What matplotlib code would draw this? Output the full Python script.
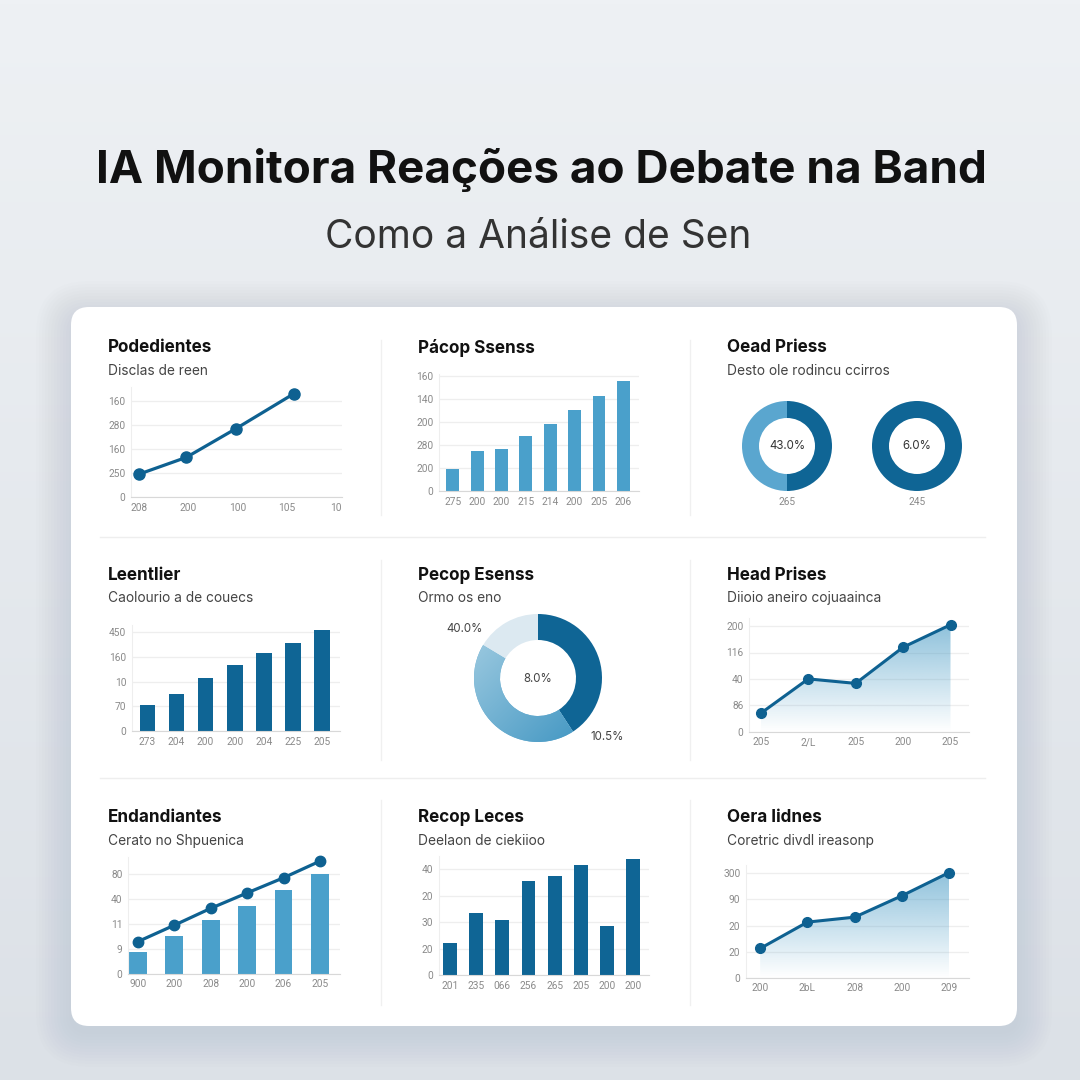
import numpy as np
import matplotlib.pyplot as plt
from matplotlib.patches import FancyBboxPatch, Polygon
from matplotlib.colors import to_rgb

plt.rcParams['font.family'] = ['Inter', 'DejaVu Sans']

W = H = 1080
DARK = "#0f6595"
LIGHT = "#4aa0cb"
LINE = "#0e6191"

title = "IA Monitora Reações ao Debate na Band"
subtitle = "Como a Análise de Sen"

# panel 1 - line
p1_title, p1_sub = "Podedientes", "Disclas de reen"
p1_x = [0, 0.96, 1.97, 3.14]
p1_y = [0.95, 1.65, 2.85, 4.3]
p1_yticks = ["0", "250", "160", "280", "160"]
p1_xticks = ["208", "200", "100", "105", "10"]

# panel 2 - bars
p2_title = "Pácop Ssenss"
p2_vals = [0.95, 1.75, 1.83, 2.39, 2.9, 3.5, 4.15, 4.8]
p2_yticks = ["0", "200", "280", "200", "140", "160"]
p2_xticks = ["275", "200", "200", "215", "214", "200", "205", "206"]

# panel 3 - two donuts
p3_title, p3_sub = "Oead Priess", "Desto ole rodincu ccirros"
p3_left = [50, 50]
p3_left_txt, p3_left_lab = "43.0%", "265"
p3_right = [100]
p3_right_txt, p3_right_lab = "6.0%", "245"

# panel 4 - bars
p4_title, p4_sub = "Leentlier", "Caolourio a de couecs"
p4_vals = [1.04, 1.49, 2.13, 2.68, 3.16, 3.57, 4.07]
p4_yticks = ["0", "70", "10", "160", "450"]
p4_xticks = ["273", "204", "200", "200", "204", "225", "205"]

# panel 5 - donut
p5_title, p5_sub = "Pecop Esenss", "Ormo os eno"
p5_vals = [40.8, 42.8, 16.4]
p5_labels = ["40.0%", "8.0%", "10.5%"]

# panel 6 - area line
p6_title, p6_sub = "Head Prises", "Diioio aneiro cojuaainca"
p6_y = [0.7, 2.0, 1.83, 3.2, 4.05]
p6_yticks = ["0", "86", "40", "116", "200"]
p6_xticks = ["205", "2/L", "205", "200", "205"]

# panel 7 - bars + line
p7_title, p7_sub = "Endandiantes", "Cerato no Shpuenica"
p7_bars = [0.86, 1.52, 2.17, 2.74, 3.37, 4.0]
p7_line = [1.29, 1.95, 2.63, 3.25, 3.86, 4.53]
p7_yticks = ["0", "9", "11", "40", "80"]
p7_xticks = ["900", "200", "208", "200", "206", "205"]

# panel 8 - bars
p8_title, p8_sub = "Recop Leces", "Deelaon de ciekiioo"
p8_vals = [1.22, 2.35, 2.08, 3.55, 3.75, 4.18, 1.85, 4.38]
p8_yticks = ["0", "20", "30", "20", "40"]
p8_xticks = ["201", "235", "066", "256", "265", "205", "200", "200"]

# panel 9 - area line
p9_title, p9_sub = "Oera lidnes", "Coretric divdl ireasonp"
p9_y = [1.12, 2.13, 2.32, 3.14, 4.03]
p9_yticks = ["0", "20", "20", "90", "300"]
p9_xticks = ["200", "2bL", "208", "200", "209"]


fig = plt.figure(figsize=(10.8, 10.8), dpi=100)

bg = fig.add_axes([0, 0, 1, 1])
bg.axis("off")

# background gradient
top_c = np.array(to_rgb("#eef1f4"))
bot_c = np.array(to_rgb("#dce1e7"))
t = np.linspace(0, 1, 256)[:, None, None]
grad = top_c * (1 - t) + bot_c * t
bg.imshow(grad, extent=(0, W, H, 0), aspect="auto", zorder=0)

# card shadow + card
for i in range(12):
    p = 2 + i * 3
    bg.add_patch(FancyBboxPatch((71 - p, 316 - p), 946 + 2 * p, 716 + 2 * p,
                                boxstyle="round,pad=0,rounding_size=%d" % (18 + p),
                                fc="#8c98a6", ec="none", alpha=0.016, zorder=1))
bg.add_patch(FancyBboxPatch((71, 307), 946, 719, boxstyle="round,pad=0,rounding_size=18",
                            fc="white", ec="none", zorder=2))
bg.set_xlim(0, W)
bg.set_ylim(H, 0)

bg.text(541, 170, title, ha="center", va="center", fontsize=33, fontweight="bold",
        color="#111111", zorder=3)
bg.text(538, 238, subtitle, ha="center", va="center", fontsize=28, color="#333333", zorder=3)

# separators
for x in [381, 690]:
    for y0, y1 in [(340, 515), (560, 760), (800, 1005)]:
        bg.plot([x, x], [y0, y1], color="#f0f0f0", lw=1, zorder=3)
for y in [537, 778]:
    bg.plot([100, 985], [y, y], color="#eeeeee", lw=1, zorder=3)

# panel titles
heads = [(108, 348, p1_title, p1_sub), (418, 348, p2_title, None), (727, 348, p3_title, p3_sub),
         (108, 575, p4_title, p4_sub), (418, 575, p5_title, p5_sub), (727, 575, p6_title, p6_sub),
         (108, 818, p7_title, p7_sub), (418, 818, p8_title, p8_sub), (727, 818, p9_title, p9_sub)]
for x, y, tt, st in heads:
    bg.text(x, y, tt, ha="left", va="center", fontsize=12.3, fontweight="bold", color="#111111", zorder=3)
    if st:
        bg.text(x, y + 23, st, ha="left", va="center", fontsize=9.9, color="#444444", zorder=3)


def px_axes(x0, y0, x1, y1):
    return fig.add_axes([x0 / W, 1 - y1 / H, (x1 - x0) / W, (y1 - y0) / H])


def chart_axes(x0, x1, base, step, ytop, xlim, ylabels, xlabels):
    ax = px_axes(x0, base - step * ytop, x1, base)
    ax.set_yticks(range(len(ylabels)), ylabels)
    ax.set_xticks(range(len(xlabels)), xlabels)
    ax.set_xlim(*xlim)
    ax.set_ylim(0, ytop)
    ax.grid(axis="y", color="#eeeeee", lw=0.9)
    ax.set_axisbelow(True)
    for s in ["top", "right"]:
        ax.spines[s].set_visible(False)
    ax.spines["left"].set_color("#eeeeee")
    ax.spines["bottom"].set_color("#d8d8d8")
    ax.tick_params(length=0, labelsize=7.3, colors="#8a8a8a", pad=4)
    for lab in ax.get_xticklabels() + ax.get_yticklabels():
        lab.set_family(["Roboto", "DejaVu Sans"])
    ax.patch.set_alpha(0)
    return ax


def grad_fill(ax, x, y, color):
    verts = list(zip(x, y)) + [(x[-1], 0), (x[0], 0)]
    poly = Polygon(verts, closed=True, fc="none", ec="none")
    ax.add_patch(poly)
    arr = np.zeros((256, 1, 4))
    arr[..., :3] = to_rgb(color)
    arr[..., 3] = np.linspace(0.62, 0.0, 256)[:, None]
    im = ax.imshow(arr, extent=(x[0], x[-1], 0, max(y)), origin="upper", aspect="auto", zorder=1)
    im.set_clip_path(poly)


# panel 1
ax = chart_axes(131, 342, 497, 24, 4.6, (-0.16, 4.12), p1_yticks, p1_xticks)
ax.plot(p1_x, p1_y, color=LINE, lw=2.3, marker="o", ms=8, zorder=3, clip_on=False)

# panel 2
ax = chart_axes(439, 639, 491, 23, 5.1, (-0.56, 7.64), p2_yticks, p2_xticks)
ax.bar(range(len(p2_vals)), p2_vals, width=0.53, color=LIGHT, zorder=2)

# panel 3
for cx, vals, cols, txt, lab in [(787, p3_left, [DARK, "#5aa6cf"], p3_left_txt, p3_left_lab),
                                 (917, p3_right, [DARK], p3_right_txt, p3_right_lab)]:
    ax = px_axes(cx - 45, 446 - 45, cx + 45, 446 + 45)
    ax.pie(vals, colors=cols, startangle=90, counterclock=False, radius=1,
           wedgeprops=dict(width=17 / 45, linewidth=0))
    ax.set_xlim(-1, 1)
    ax.set_ylim(-1, 1)
    ax.text(0, 0, txt, ha="center", va="center", fontsize=8.3, color="#333333")
    ax.text(0, -1.25, lab, ha="center", va="center", fontsize=7.3, color="#8a8a8a",
            family=["Roboto", "DejaVu Sans"], clip_on=False)

# panel 4
ax = chart_axes(131.7, 340, 731, 24.75, 4.3, (-0.54, 6.62), p4_yticks, p4_xticks)
ax.bar(range(len(p4_vals)), p4_vals, width=0.54, color=DARK, zorder=2)

# panel 5
ax = px_axes(538 - 64, 678 - 64, 538 + 64, 678 + 64)
wedges, _ = ax.pie(p5_vals, colors=[DARK, "#6aaed3", "#dce9f1"], startangle=90, counterclock=False,
                   radius=1, wedgeprops=dict(width=26 / 64, linewidth=0))
gx, gy = np.meshgrid(np.linspace(-1, 1, 200), np.linspace(1, -1, 200))
tt = np.clip(((gx - gy) + 2) / 4, 0, 1)[..., None]
c0 = np.array(to_rgb("#a6cfe3"))
c1 = np.array(to_rgb("#3a92c0"))
im = ax.imshow(c0 * (1 - tt) + c1 * tt, extent=(-1, 1, -1, 1), zorder=2)
im.set_clip_path(wedges[1])
ax.set_xlim(-1, 1)
ax.set_ylim(-1, 1)
ax.axis("off")
ax.text(-1.14, 0.77, p5_labels[0], ha="center", va="center", fontsize=8.3, color="#444444", clip_on=False)
ax.text(0, -0.02, p5_labels[1], ha="center", va="center", fontsize=8.3, color="#444444")
ax.text(1.08, -0.92, p5_labels[2], ha="center", va="center", fontsize=8.3, color="#444444", clip_on=False)

# panel 6
ax = chart_axes(749, 969, 731.7, 26.4, 4.3, (-0.25, 4.39), p6_yticks, p6_xticks)
x6 = list(range(len(p6_y)))
grad_fill(ax, x6, p6_y, "#4a9cc6")
ax.plot(x6, p6_y, color=LINE, lw=2.2, marker="o", ms=7, zorder=3, clip_on=False)
ax.set_xlim(-0.25, 4.39)
ax.set_ylim(0, 4.3)

# panel 7
ax = chart_axes(128, 340, 973.7, 24.85, 4.7, (-0.27, 5.55), p7_yticks, p7_xticks)
x7 = list(range(len(p7_bars)))
ax.bar(x7, p7_bars, width=0.49, color=LIGHT, zorder=2)
ax.plot(x7, p7_line, color=LINE, lw=2.3, marker="o", ms=7.5, zorder=3, clip_on=False)

# panel 8
ax = chart_axes(439, 649, 975.3, 26.5, 4.5, (-0.42, 7.6), p8_yticks, p8_xticks)
ax.bar(range(len(p8_vals)), p8_vals, width=0.53, color=DARK, zorder=2)

# panel 9
ax = chart_axes(746, 969, 977.7, 26.1, 4.3, (-0.3, 4.42), p9_yticks, p9_xticks)
x9 = list(range(len(p9_y)))
grad_fill(ax, x9, p9_y, "#4a9cc6")
ax.plot(x9, p9_y, color=LINE, lw=2.2, marker="o", ms=7, zorder=3, clip_on=False)
ax.set_xlim(-0.3, 4.42)
ax.set_ylim(0, 4.3)

fig.savefig("out.png", dpi=100)
